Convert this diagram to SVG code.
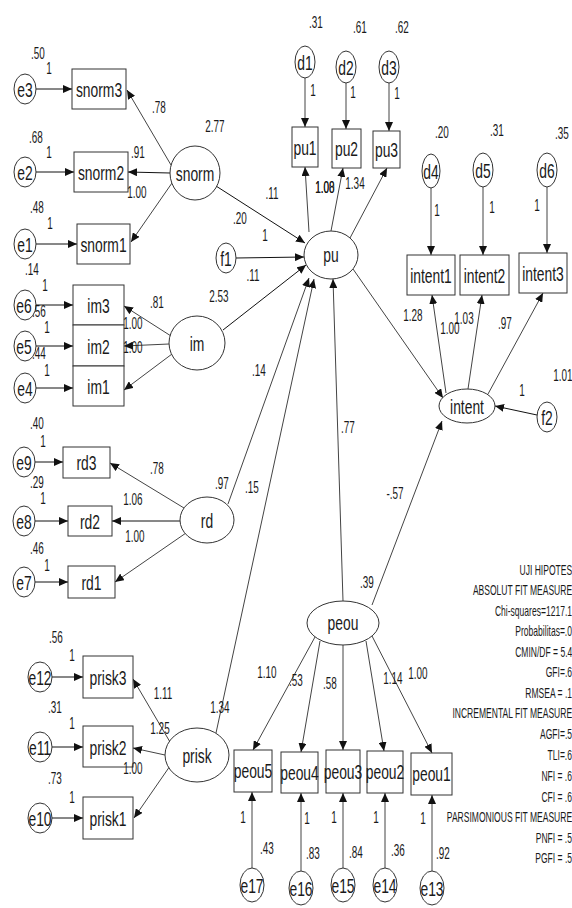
<svg xmlns="http://www.w3.org/2000/svg" width="572" height="908" viewBox="0 0 572 908">
<style>
rect,ellipse{fill:#fff;stroke:#333;stroke-width:1}
#connectors line{stroke:#444;stroke-width:1;marker-end:url(#a)}
#connectors line.k{stroke:#111}
text{font-family:"Liberation Sans",Arial,sans-serif;fill:#1a1a1a;transform-box:fill-box}
.n{font-size:21px;text-anchor:middle;transform-origin:center;transform:translateY(1px) scaleX(0.66)}
.l{font-size:16px;text-anchor:middle;transform-origin:center;transform:translateY(1px) scaleX(0.62)}
.p{font-size:14px;text-anchor:end;transform-origin:right center;transform:translateY(1px) scaleX(0.61)}
</style>
<defs>
<marker id="a" markerWidth="9" markerHeight="8" refX="9" refY="4" orient="auto" markerUnits="userSpaceOnUse"><path d="M0,0 L9,4 L0,8 z" fill="#111"/></marker>
</defs>
<rect x="0" y="0" width="572" height="908" style="fill:#fff;stroke:none"/>
<g id="connectors">
<line class="k" x1="36" y1="89" x2="72" y2="89"/>
<line class="k" x1="36" y1="172" x2="74" y2="172"/>
<line class="k" x1="36" y1="244" x2="77" y2="244"/>
<line class="k" x1="36" y1="305" x2="73" y2="305"/>
<line class="k" x1="36" y1="346" x2="73" y2="346"/>
<line class="k" x1="36" y1="388" x2="73" y2="388"/>
<line class="k" x1="35" y1="462" x2="63" y2="462"/>
<line class="k" x1="35" y1="521" x2="68" y2="521"/>
<line class="k" x1="35" y1="582" x2="68" y2="582"/>
<line class="k" x1="52" y1="677" x2="83" y2="677"/>
<line class="k" x1="52" y1="747" x2="83" y2="747"/>
<line class="k" x1="52" y1="818" x2="83" y2="818"/>
<line x1="171" y1="165" x2="127" y2="90"/>
<line class="k" x1="170" y1="173" x2="128" y2="172"/>
<line x1="172" y1="183" x2="131" y2="242"/>
<line class="k" x1="216" y1="186" x2="305" y2="243"/>
<line class="k" x1="236" y1="258" x2="304" y2="257"/>
<line class="k" x1="223" y1="330" x2="306" y2="265"/>
<line x1="171" y1="336" x2="124" y2="306"/>
<line x1="169" y1="344" x2="124" y2="346"/>
<line x1="172" y1="354" x2="124" y2="390"/>
<line x1="184" y1="508" x2="110" y2="463"/>
<line class="k" x1="180" y1="521" x2="112" y2="521"/>
<line x1="186" y1="533" x2="115" y2="582"/>
<line x1="228" y1="504" x2="309" y2="278"/>
<line x1="170" y1="742" x2="133" y2="679"/>
<line x1="165" y1="755" x2="133" y2="748"/>
<line x1="170" y1="766" x2="134" y2="818"/>
<line x1="216" y1="733" x2="314" y2="279"/>
<line x1="343" y1="601" x2="333" y2="279"/>
<line x1="372" y1="605" x2="442" y2="421"/>
<line x1="353" y1="269" x2="443" y2="398"/>
<line x1="309" y1="232" x2="305" y2="167"/>
<line x1="331" y1="231" x2="343" y2="168"/>
<line x1="350" y1="238" x2="387" y2="168"/>
<line x1="305" y1="78" x2="305" y2="127"/>
<line x1="346" y1="83" x2="346" y2="129"/>
<line x1="389" y1="83" x2="389" y2="131"/>
<line x1="431" y1="188" x2="431" y2="255"/>
<line x1="483" y1="187" x2="483" y2="255"/>
<line x1="547" y1="187" x2="547" y2="253"/>
<line x1="446" y1="393" x2="432" y2="295"/>
<line x1="468" y1="389" x2="482" y2="295"/>
<line x1="488" y1="394" x2="543" y2="293"/>
<line class="k" x1="537" y1="415" x2="495" y2="406"/>
<line x1="315" y1="637" x2="253" y2="750"/>
<line x1="320" y1="641" x2="301" y2="752"/>
<line x1="343" y1="645" x2="343" y2="750"/>
<line x1="366" y1="641" x2="384" y2="751"/>
<line x1="372" y1="636" x2="432" y2="753"/>
<line x1="252" y1="868" x2="252" y2="792"/>
<line x1="301" y1="871" x2="301" y2="793"/>
<line x1="343" y1="868" x2="343" y2="793"/>
<line x1="385" y1="868" x2="385" y2="793"/>
<line x1="432" y1="871" x2="432" y2="795"/>
</g>
<g id="e3"><ellipse cx="25" cy="89" rx="11" ry="15"/><text class="n" x="25" y="96">e3</text></g>
<g id="e2"><ellipse cx="25" cy="172" rx="11" ry="15"/><text class="n" x="25" y="179">e2</text></g>
<g id="e1"><ellipse cx="25" cy="244" rx="11" ry="15"/><text class="n" x="25" y="251">e1</text></g>
<g id="e6"><ellipse cx="25" cy="305" rx="11" ry="15"/><text class="n" x="24" y="312">e6</text></g>
<g id="e5"><ellipse cx="25" cy="346" rx="11" ry="15"/><text class="n" x="24" y="353">e5</text></g>
<g id="e4"><ellipse cx="25" cy="388" rx="11" ry="15"/><text class="n" x="25" y="395">e4</text></g>
<g id="e9"><ellipse cx="24" cy="462" rx="11" ry="15"/><text class="n" x="24" y="469">e9</text></g>
<g id="e8"><ellipse cx="24" cy="521" rx="11" ry="15"/><text class="n" x="24" y="528">e8</text></g>
<g id="e7"><ellipse cx="24" cy="582" rx="11" ry="15"/><text class="n" x="24" y="589">e7</text></g>
<g id="e12"><ellipse cx="40" cy="677" rx="12" ry="15"/><text class="n" x="40" y="684">e12</text></g>
<g id="e11"><ellipse cx="40" cy="747" rx="12" ry="15"/><text class="n" x="40" y="754">e11</text></g>
<g id="e10"><ellipse cx="40" cy="818" rx="12" ry="15"/><text class="n" x="40" y="825">e10</text></g>
<g id="snorm3"><rect x="72" y="69" width="54" height="40"/><text class="n" x="99" y="96">snorm3</text></g>
<g id="snorm2"><rect x="74" y="152" width="54" height="40"/><text class="n" x="101" y="179">snorm2</text></g>
<g id="snorm1"><rect x="77" y="224" width="53" height="40"/><text class="n" x="103.5" y="251">snorm1</text></g>
<g id="im3"><rect x="73" y="285" width="51" height="40"/><text class="n" x="98.5" y="312">im3</text></g>
<g id="im2"><rect x="73" y="325" width="51" height="41"/><text class="n" x="98.5" y="353">im2</text></g>
<g id="im1"><rect x="73" y="366" width="51" height="40"/><text class="n" x="98.5" y="393">im1</text></g>
<g id="rd3"><rect x="63" y="447" width="47" height="31"/><text class="n" x="86.5" y="469">rd3</text></g>
<g id="rd2"><rect x="68" y="506" width="44" height="30"/><text class="n" x="90" y="528">rd2</text></g>
<g id="rd1"><rect x="68" y="566" width="47" height="32"/><text class="n" x="91.5" y="589">rd1</text></g>
<g id="prisk3"><rect x="83" y="656" width="50" height="42"/><text class="n" x="108" y="684">prisk3</text></g>
<g id="prisk2"><rect x="83" y="726" width="50" height="41"/><text class="n" x="108" y="754">prisk2</text></g>
<g id="prisk1"><rect x="83" y="797" width="50" height="42"/><text class="n" x="108" y="825">prisk1</text></g>
<g id="snorm"><ellipse cx="195" cy="173" rx="25" ry="27"/><text class="n" x="195" y="180">snorm</text></g>
<g id="im"><ellipse cx="197" cy="343" rx="28" ry="27"/><text class="n" x="197" y="350">im</text></g>
<g id="rd"><ellipse cx="207" cy="520" rx="27" ry="23"/><text class="n" x="207" y="527">rd</text></g>
<g id="prisk"><ellipse cx="197" cy="755" rx="32" ry="27"/><text class="n" x="197" y="762">prisk</text></g>
<g id="f1"><ellipse cx="226" cy="258" rx="10" ry="15"/><text class="n" x="226" y="265">f1</text></g>
<g id="pu"><ellipse cx="331" cy="255" rx="27" ry="24"/><text class="n" x="331" y="261">pu</text></g>
<g id="d1"><ellipse cx="305" cy="62" rx="10" ry="16"/><text class="n" x="305" y="69">d1</text></g>
<g id="d2"><ellipse cx="346" cy="67" rx="10" ry="16"/><text class="n" x="346" y="74">d2</text></g>
<g id="d3"><ellipse cx="389" cy="67" rx="10" ry="16"/><text class="n" x="389" y="74">d3</text></g>
<g id="pu1"><rect x="292" y="127" width="26" height="40"/><text class="n" x="305" y="154">pu1</text></g>
<g id="pu2"><rect x="332" y="129" width="29" height="39"/><text class="n" x="346.5" y="155">pu2</text></g>
<g id="pu3"><rect x="373" y="131" width="27" height="37"/><text class="n" x="386.5" y="156">pu3</text></g>
<g id="d4"><ellipse cx="431" cy="171" rx="9" ry="17"/><text class="n" x="431" y="178">d4</text></g>
<g id="d5"><ellipse cx="483" cy="170" rx="10" ry="17"/><text class="n" x="483" y="177">d5</text></g>
<g id="d6"><ellipse cx="547" cy="170" rx="10" ry="17"/><text class="n" x="547" y="177">d6</text></g>
<g id="intent1"><rect x="407" y="255" width="48" height="40"/><text class="n" x="431" y="282">intent1</text></g>
<g id="intent2"><rect x="460" y="255" width="49" height="40"/><text class="n" x="484.5" y="282">intent2</text></g>
<g id="intent3"><rect x="519" y="253" width="48" height="40"/><text class="n" x="543" y="280">intent3</text></g>
<g id="intent"><ellipse cx="467" cy="406" rx="28" ry="17"/><text class="n" x="467" y="413">intent</text></g>
<g id="f2"><ellipse cx="547" cy="417" rx="10" ry="15"/><text class="n" x="547" y="424">f2</text></g>
<g id="peou"><ellipse cx="343" cy="623" rx="36" ry="22"/><text class="n" x="343" y="629">peou</text></g>
<g id="peou5"><rect x="234" y="750" width="38" height="42"/><text class="n" x="253" y="777">peou5</text></g>
<g id="peou4"><rect x="281" y="752" width="37" height="41"/><text class="n" x="299.5" y="779">peou4</text></g>
<g id="peou3"><rect x="326" y="750" width="34" height="43"/><text class="n" x="343" y="778">peou3</text></g>
<g id="peou2"><rect x="367" y="751" width="36" height="42"/><text class="n" x="385" y="778">peou2</text></g>
<g id="peou1"><rect x="411" y="753" width="41" height="42"/><text class="n" x="431.5" y="780">peou1</text></g>
<g id="e17"><ellipse cx="252" cy="885" rx="12" ry="17"/><text class="n" x="252" y="892">e17</text></g>
<g id="e16"><ellipse cx="301" cy="888" rx="12" ry="17"/><text class="n" x="301" y="895">e16</text></g>
<g id="e15"><ellipse cx="343" cy="885" rx="12" ry="17"/><text class="n" x="343" y="892">e15</text></g>
<g id="e14"><ellipse cx="385" cy="885" rx="12" ry="17"/><text class="n" x="385" y="892">e14</text></g>
<g id="e13"><ellipse cx="432" cy="888" rx="12" ry="17"/><text class="n" x="432" y="895">e13</text></g>
<g id="labels">
<text class="l" x="38" y="58">.50</text><text class="l" x="49" y="73">1</text>
<text class="l" x="36" y="142">.68</text><text class="l" x="49" y="157">1</text>
<text class="l" x="37" y="212">.48</text><text class="l" x="50" y="228">1</text>
<text class="l" x="159" y="112">.78</text><text class="l" x="138" y="157">.91</text><text class="l" x="137" y="197">1.00</text>
<text class="l" x="215" y="131">2.77</text>
<text class="l" x="316" y="27">.31</text><text class="l" x="360" y="32">.61</text><text class="l" x="402" y="32">.62</text>
<text class="l" x="313" y="95">1</text><text class="l" x="353" y="97">1</text><text class="l" x="397" y="98">1</text>
<text class="l" x="325" y="192">1.00</text><text class="l" x="325" y="192">1.08</text>
<text class="l" x="355" y="188">1.34</text>
<text class="l" x="272" y="198">.11</text><text class="l" x="240" y="223">.20</text><text class="l" x="265" y="240">1</text>
<text class="l" x="253" y="280">.11</text><text class="l" x="219" y="301">2.53</text>
<text class="l" x="157" y="307">.81</text><text class="l" x="133" y="328">1.00</text><text class="l" x="133" y="352">1.00</text>
<text class="l" x="32" y="274">.14</text><text class="l" x="45" y="290">1</text>
<text class="l" x="39" y="316">.56</text><text class="l" x="47" y="332">1</text>
<text class="l" x="39" y="358">.44</text><text class="l" x="47" y="375">1</text>
<text class="l" x="259" y="375">.14</text>
<text class="l" x="37" y="428">.40</text><text class="l" x="43" y="446">1</text>
<text class="l" x="37" y="487">.29</text><text class="l" x="43" y="503">1</text>
<text class="l" x="37" y="553">.46</text><text class="l" x="47" y="570">1</text>
<text class="l" x="157" y="473">.78</text><text class="l" x="133" y="504">1.06</text><text class="l" x="135" y="541">1.00</text>
<text class="l" x="222" y="488">.97</text><text class="l" x="252" y="492">.15</text>
<text class="l" x="56" y="642">.56</text><text class="l" x="72" y="660">1</text>
<text class="l" x="55" y="712">.31</text><text class="l" x="72" y="728">1</text>
<text class="l" x="55" y="783">.73</text><text class="l" x="72" y="802">1</text>
<text class="l" x="163" y="698">1.11</text><text class="l" x="160" y="733">1.25</text><text class="l" x="133" y="773">1.00</text><text class="l" x="220" y="712">1.34</text>
<text class="l" x="348" y="432">.77</text><text class="l" x="395" y="498">-.57</text><text class="l" x="367" y="587">.39</text>
<text class="l" x="413" y="320">1.28</text><text class="l" x="464" y="323">1.03</text><text class="l" x="450" y="333">1.00</text>
<text class="l" x="505" y="328">.97</text>
<text class="l" x="522" y="395">1</text><text class="l" x="563" y="380">1.01</text>
<text class="l" x="442" y="137">.20</text><text class="l" x="497" y="135">.31</text><text class="l" x="562" y="138">.35</text>
<text class="l" x="437" y="215">1</text><text class="l" x="492" y="212">1</text><text class="l" x="537" y="210">1</text>
<text class="l" x="267" y="677">1.10</text><text class="l" x="296" y="685">.53</text><text class="l" x="330" y="688">.58</text><text class="l" x="393" y="683">1.14</text><text class="l" x="418" y="678">1.00</text>
<text class="l" x="243" y="822">1</text><text class="l" x="307" y="823">1</text><text class="l" x="334" y="822">1</text><text class="l" x="376" y="822">1</text><text class="l" x="423" y="823">1</text>
<text class="l" x="267" y="853">.43</text><text class="l" x="313" y="858">.83</text><text class="l" x="356" y="857">.84</text><text class="l" x="398" y="855">.36</text><text class="l" x="443" y="858">.92</text>
</g>
<g id="fit-panel">
<text class="p" x="572" y="574">UJI HIPOTES</text>
<text class="p" x="572" y="594">ABSOLUT FIT MEASURE</text>
<text class="p" x="572" y="615">Chi-squares=1217.1</text>
<text class="p" x="572" y="635">Probabilitas=.0</text>
<text class="p" x="572" y="656">CMIN/DF = 5.4</text>
<text class="p" x="572" y="676">GFI=.6</text>
<text class="p" x="572" y="697">RMSEA = .1</text>
<text class="p" x="572" y="717">INCREMENTAL FIT MEASURE</text>
<text class="p" x="572" y="738">AGFI=.5</text>
<text class="p" x="572" y="759">TLI=.6</text>
<text class="p" x="572" y="780">NFI = .6</text>
<text class="p" x="572" y="801">CFI = .6</text>
<text class="p" x="572" y="821">PARSIMONIOUS FIT MEASURE</text>
<text class="p" x="572" y="842">PNFI = .5</text>
<text class="p" x="572" y="862">PGFI = .5</text>
</g>
</svg>
